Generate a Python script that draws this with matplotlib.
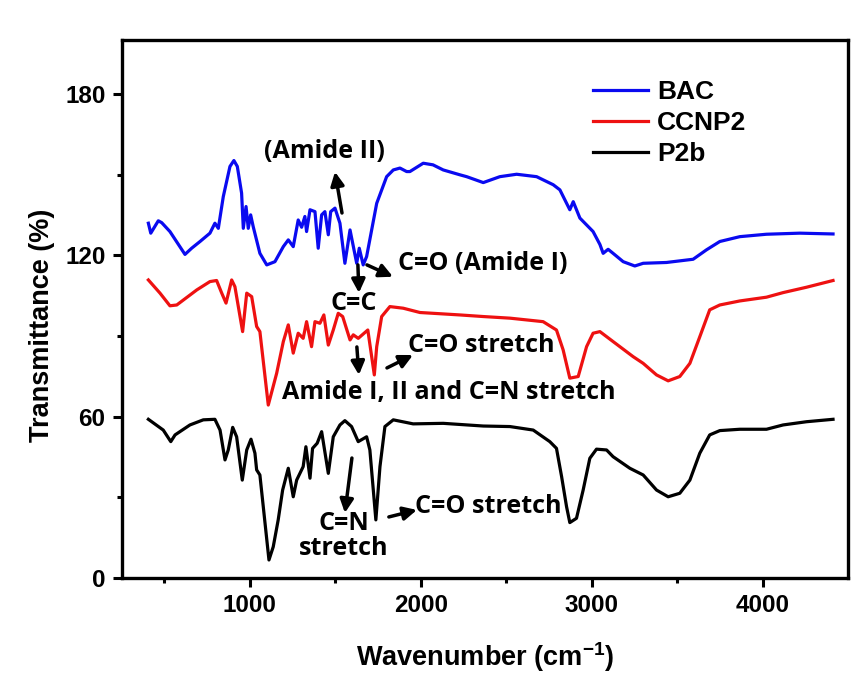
import numpy as np
import matplotlib
matplotlib.use("Agg")
import matplotlib.pyplot as plt

plt.rcParams['font.family'] = ['Liberation Sans', 'DejaVu Sans']
plt.rcParams['font.weight'] = 'bold'
plt.rcParams['mathtext.fontset'] = 'custom'
plt.rcParams['mathtext.bf'] = 'Liberation Sans:bold'
plt.rcParams['mathtext.rm'] = 'Liberation Sans:bold'
plt.rcParams['mathtext.default'] = 'bf'

# BAC spectrum
bac_x = [407, 421, 465, 485, 533, 621, 660, 709, 767, 796, 816, 845, 884, 907, 927,
         952, 962, 978, 991, 1005, 1020, 1059, 1099, 1147, 1196, 1225, 1254, 1283,
         1303, 1322, 1332, 1352, 1381, 1400, 1420, 1439, 1459, 1473, 1498, 1527,
         1556, 1586, 1625, 1640, 1663, 1683, 1742, 1800, 1839, 1878, 1917, 1936,
         2014, 2071, 2131, 2228, 2268, 2365, 2462, 2560, 2677, 2774, 2813, 2871,
         2891, 2930, 3007, 3047, 3066, 3095, 3124, 3183, 3251, 3300, 3436, 3592,
         3670, 3748, 3865, 4021, 4216, 4410]
bac_y = [131.9, 128.2, 132.8, 132.1, 128.8, 120.3, 122.6, 125.1, 128.2, 131.9, 130.0,
         141.8, 153.0, 155.2, 153.0, 143.1, 130.0, 138.1, 130.0, 135.0, 130.6, 120.7,
         116.4, 117.6, 123.2, 125.7, 123.2, 133.1, 130.4, 134.4, 128.8, 136.9, 136.2,
         122.6, 135.0, 136.2, 127.6, 136.2, 137.5, 131.9, 117.0, 129.4, 117.0, 122.6,
         116.4, 119.5, 139.3, 149.2, 151.7, 152.4, 151.1, 151.1, 154.2, 153.6, 151.7,
         149.9, 149.2, 147.0, 149.2, 150.1, 149.2, 146.2, 144.3, 136.9, 139.9, 133.8,
         128.8, 124.0, 120.7, 122.2, 120.7, 117.6, 116.0, 117.0, 117.3, 118.5, 122.0,
         125.1, 126.9, 127.8, 128.2, 127.9]

# CCNP2 spectrum
ccnp2_x = [407, 475, 533, 573, 690, 767, 806, 836, 861, 894, 913, 958, 982, 1011,
           1040, 1059, 1108, 1157, 1196, 1225, 1254, 1283, 1312, 1332, 1361, 1381,
           1410, 1433, 1459, 1488, 1517, 1543, 1586, 1605, 1634, 1690, 1728, 1742,
           1771, 1819, 1897, 1995, 2228, 2365, 2521, 2715, 2793, 2832, 2871, 2920,
           2969, 3007, 3047, 3124, 3241, 3300, 3378, 3446, 3514, 3573, 3631, 3689,
           3748, 3865, 4021, 4118, 4255, 4410]
ccnp2_y = [110.8, 105.9, 101.2, 101.5, 107.1, 110.2, 110.6, 105.9, 102.2, 110.8, 108.3,
           91.6, 105.9, 104.6, 93.5, 91.6, 64.3, 76.1, 87.9, 94.1, 83.6, 91.0, 89.1,
           95.3, 86.0, 95.3, 94.7, 97.8, 86.6, 92.2, 98.4, 97.2, 88.5, 90.4, 89.1,
           92.2, 75.5, 86.0, 97.2, 100.9, 100.3, 98.7, 97.8, 97.2, 96.6, 95.3, 92.2,
           84.8, 74.3, 74.9, 86.0, 91.0, 91.6, 87.9, 82.3, 79.8, 75.5, 73.3, 74.9,
           79.8, 89.7, 99.7, 101.5, 103.0, 104.4, 106.1, 108.1, 110.6]

# P2b spectrum
p2b_x = [407, 494, 538, 563, 650, 728, 796, 826, 855, 874, 900, 923, 956, 982, 1007,
         1030, 1040, 1059, 1112, 1137, 1166, 1192, 1225, 1254, 1274, 1312, 1328, 1352,
         1367, 1394, 1420, 1459, 1488, 1527, 1556, 1595, 1634, 1683, 1702, 1737, 1761,
         1790, 1839, 1955, 2131, 2365, 2521, 2657, 2754, 2793, 2823, 2852, 2871, 2910,
         2949, 2988, 3027, 3086, 3124, 3222, 3300, 3378, 3446, 3514, 3573, 3631, 3689,
         3748, 3865, 4021, 4118, 4255, 4410]
p2b_y = [59.0, 55.0, 50.7, 53.2, 56.9, 58.8, 59.0, 55.0, 43.9, 47.6, 56.0, 52.5, 36.4,
         47.6, 51.6, 46.4, 40.2, 38.3, 6.7, 11.6, 21.6, 32.7, 40.8, 30.2, 36.4, 41.4,
         48.8, 37.1, 48.2, 50.1, 54.4, 38.9, 52.5, 56.9, 58.5, 56.3, 50.7, 52.5, 47.6,
         21.6, 41.4, 56.3, 58.8, 57.3, 57.5, 56.5, 56.3, 55.0, 50.7, 48.2, 37.7, 26.5,
         20.6, 22.2, 32.7, 44.5, 47.9, 47.6, 45.1, 40.8, 38.3, 32.7, 30.2, 31.5, 36.4,
         46.4, 53.2, 54.8, 55.3, 55.3, 56.9, 58.1, 59.0]

labels = ["BAC", "CCNP2", "P2b"]
colors = ["#0a0af0", "#ee1111", "black"]

# annotations: text, position, alignment
notes = [("(Amide II)", (1439, 158.4), "center"),
         ("C=O (Amide I)", (1866, 116.8), "left"),
         ("C=C", (1609, 102.2), "center"),
         ("C=O stretch", (1924, 86.6), "left"),
         ("Amide I, II and C=N stretch", (1188, 68.8), "left"),
         ("C=N\nstretch", (1551, 15.8), "center"),
         ("C=O stretch", (1965, 26.4), "left")]
# arrows: tail -> head
arrows = [((1539, 135.7), (1498, 151.0)),
          ((1632, 116.4), (1638, 106.0)),
          ((1685, 116.4), (1837, 112.0)),
          ((1626, 85.9), (1638, 75.5)),
          ((1802, 78.1), (1954, 82.9)),
          ((1597, 44.6), (1556, 24.2)),
          ((1813, 22.7), (1977, 25.3))]

fig = plt.figure(figsize=(8.57, 6.75), dpi=100)
ax = fig.add_axes([0.1418, 0.1437, 0.8482, 0.797])

for xs, ys, lab, col in zip([bac_x, ccnp2_x, p2b_x], [bac_y, ccnp2_y, p2b_y], labels, colors):
    ax.plot(xs, ys, color=col, lw=2.3, label=lab)

for txt, pos, ha in notes:
    ax.text(pos[0], pos[1], txt, ha=ha, va="center", fontsize=18.1,
            family=["Open Sans", "DejaVu Sans"], fontweight="bold", linespacing=1.0)

for tail, head in arrows:
    ax.annotate("", xy=head, xytext=tail,
                arrowprops=dict(arrowstyle="-|>", lw=2.5, color="black",
                                mutation_scale=20, shrinkA=0, shrinkB=0))

ax.set_xlim(250, 4500)
ax.set_ylim(0, 200)
ax.set_xticks([1000, 2000, 3000, 4000])
ax.set_xticks(np.arange(500, 4500, 1000), minor=True)
ax.set_yticks([0, 60, 120, 180])
ax.set_yticks([30, 90, 150], minor=True)
ax.tick_params(which="major", direction="out", length=6.5, width=2.2, labelsize=17.5, pad=5)
ax.tick_params(which="minor", direction="out", length=3.5, width=2.2)
for lab in ax.get_xticklabels() + ax.get_yticklabels():
    lab.set_fontweight("bold")
for sp in ax.spines.values():
    sp.set_linewidth(2.4)

ax.set_xlabel("Wavenumber (cm$^{-1}$)", fontsize=19.5, fontweight="bold", labelpad=17)
ax.set_ylabel("Transmittance (%)", fontsize=19.5, fontweight="bold")
ax.yaxis.set_label_coords(-0.092, 0.47)

leg = ax.legend(loc="upper left", bbox_to_anchor=(0.6486, 0.926), frameon=False,
                fontsize=19, handlelength=2.08, handletextpad=0.34, labelspacing=0.27,
                borderpad=0, borderaxespad=0)
for t in leg.get_texts():
    t.set_fontweight("bold")

plt.savefig("out.png", dpi=100)
